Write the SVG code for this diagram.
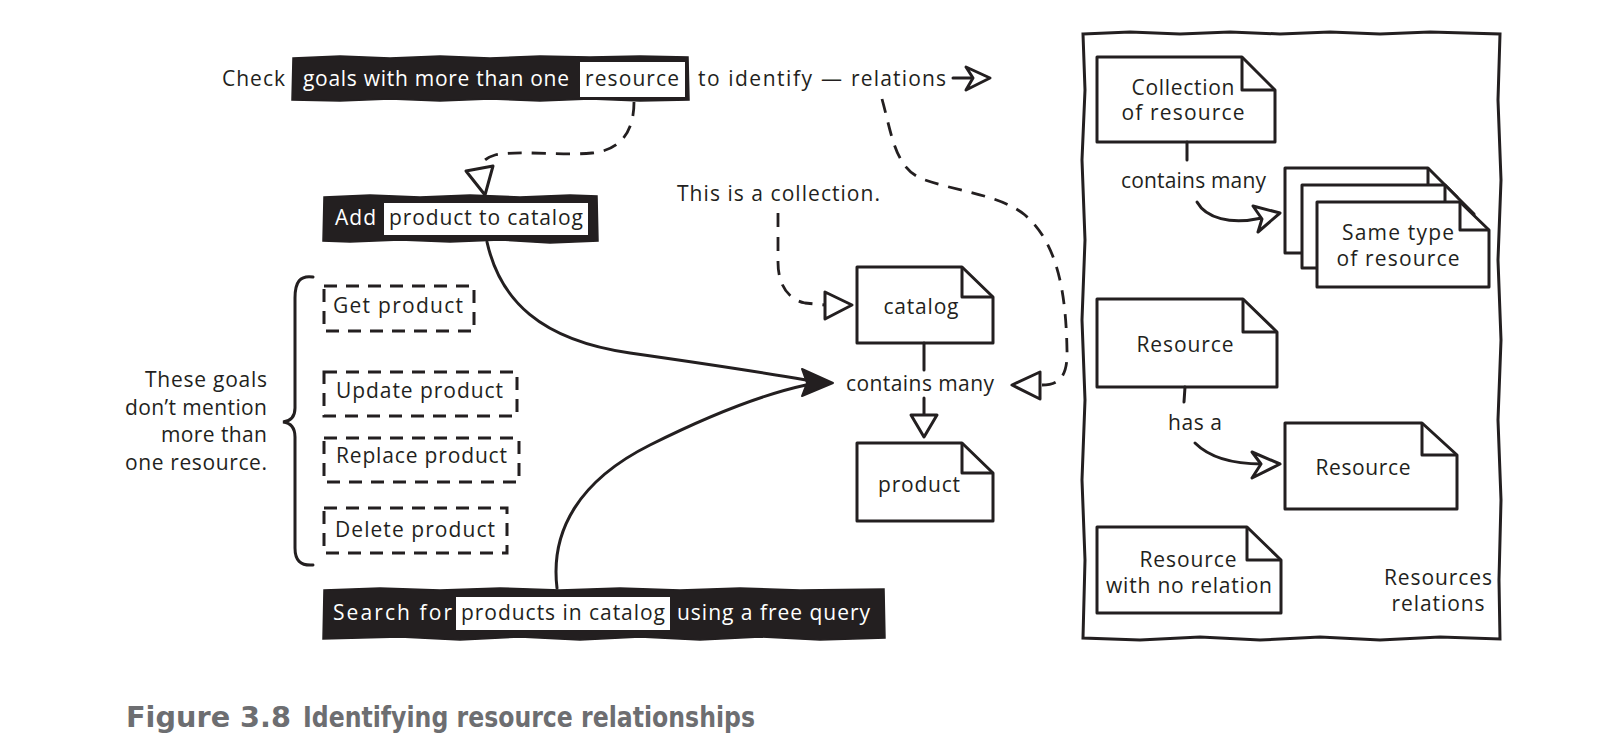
<svg xmlns="http://www.w3.org/2000/svg" width="1621" height="754" viewBox="0 0 1621 754">
<style>
text{font-family:"Open Sans","Noto Sans","DejaVu Sans",sans-serif;font-size:21px;fill:#231f20}
.w{fill:#fff}
.m{text-anchor:middle}
.r{text-anchor:end}
.blk{fill:#231f20;stroke:#231f20;stroke-width:1.5}
.wb{fill:#fff}
.doc{fill:#fff;stroke:#231f20;stroke-width:3;stroke-linejoin:round}
.fold{fill:none;stroke:#231f20;stroke-width:3;stroke-linejoin:round}
.dbox{fill:none;stroke:#231f20;stroke-width:3;stroke-dasharray:13 9}
.ln{fill:none;stroke:#231f20;stroke-width:3;stroke-linecap:round}
.dl{fill:none;stroke:#231f20;stroke-width:2.8;stroke-dasharray:14 10}
.ho{fill:#fff;stroke:#231f20;stroke-width:3;stroke-linejoin:round}
.fi{fill:#231f20;stroke:#231f20;stroke-width:2;stroke-linejoin:round}
.cap{font-family:"DejaVu Sans","Liberation Sans",sans-serif;font-weight:bold;font-size:28px;fill:#6d6e71}
</style>

<g id="goal-check">
<text x="222" y="86" textLength="63">Check</text>
<path class="blk" d="M293 58 L340 56 L390 58 L440 56 L490 58 L540 56 L590 57 L640 56 L688 57 L689 100 L640 101 L590 99 L540 101 L490 99 L440 101 L390 99 L340 101 L292 100 Z"/>
<rect class="wb" x="580" y="62" width="105" height="35"/>
<text class="w" x="303" y="86" textLength="266">goals with more than one</text>
<text x="585" y="86" textLength="94">resource</text>
<text x="698" y="86" textLength="114">to identify</text>
<text x="821" y="86" textLength="22">—</text>
<text x="851" y="86" textLength="95">relations</text>
</g>

<g id="goal-add">
<path class="blk" d="M324 197 L370 195 L420 197 L470 195 L520 197 L570 195 L597 196 L598 241 L550 243 L500 240 L450 242 L400 240 L350 242 L323 241 Z"/>
<rect class="wb" x="384" y="203" width="204" height="32"/>
<text class="w" x="335" y="225" textLength="41">Add</text>
<text x="389" y="225" textLength="194">product to catalog</text>
</g>

<g id="goal-search">
<path class="blk" d="M324 590 L380 588 L440 590 L500 588 L560 590 L620 588 L680 590 L740 588 L800 590 L884 589 L885 638 L820 640 L760 637 L700 640 L640 637 L580 640 L520 637 L460 640 L400 637 L323 639 Z"/>
<rect class="wb" x="456" y="597" width="214" height="33"/>
<text class="w" x="333" y="620" textLength="119">Search for</text>
<text x="461" y="620" textLength="204">products in catalog</text>
<text class="w" x="677" y="620" textLength="193">using a free query</text>
</g>

<g id="goal-get"><rect class="dbox" x="324" y="286" width="150" height="45"/><text x="333" y="313" textLength="130">Get product</text></g>
<g id="goal-update"><rect class="dbox" x="324" y="372" width="193" height="44"/><text x="336" y="398" textLength="167">Update product</text></g>
<g id="goal-replace"><rect class="dbox" x="324" y="438" width="195" height="44"/><text x="336" y="463" textLength="171">Replace product</text></g>
<g id="goal-delete"><rect class="dbox" x="324" y="508" width="183" height="45"/><text x="335" y="537" textLength="160">Delete product</text></g>

<g id="note-goals">
<path class="ln" d="M313 277 C300 275 295 282 295 298 L295 408 C295 417 291 421 283 422 C291 423 295 428 295 437 L295 548 C295 560 300 566 313 565"/>
<text class="r" x="267" y="387" textLength="122">These goals</text>
<text class="r" x="267" y="415" textLength="142">don’t mention</text>
<text class="r" x="267" y="442" textLength="106">more than</text>
<text class="r" x="267" y="470" textLength="142">one resource.</text>
</g>

<g id="note-collection"><text x="677" y="201" textLength="203">This is a collection.</text></g>

<g id="catalog">
<path class="doc" d="M857 267 L962 267 L993 297 L993 343 L857 343 Z"/>
<path class="fold" d="M962 267 L962 297 L993 297"/>
<text class="m" x="921" y="314" textLength="75">catalog</text>
</g>

<g id="product">
<path class="doc" d="M857 443 L962 443 L993 473 L993 521 L857 521 Z"/>
<path class="fold" d="M962 443 L962 473 L993 473"/>
<text class="m" x="919" y="492" textLength="82">product</text>
</g>

<g id="contains-many"><text x="846" y="391" textLength="148">contains many</text></g>

<g id="connectors">
<path class="dl" d="M634 102 C634 130 622 150 592 153 C560 156 520 150 495 155 C484 158 481 164 480 169"/>
<path class="ho" d="M466 171 L493 166 L485 195 Z"/>
<path class="dl" d="M882 99 C892 135 895 170 925 180 C960 192 1000 195 1025 215 C1060 245 1066 300 1067 350 C1068 378 1058 385 1042 385"/>
<path class="ho" d="M1040 372 L1040 399 L1012 385 Z"/>
<path class="dl" d="M778 213 L778 262 C778 287 790 300 805 303 L825 305"/>
<path class="ho" d="M825 292 L825 319 L852 305 Z"/>
<line class="ln" x1="953" y1="78" x2="972" y2="78"/>
<path class="ho" d="M990 78 L966 67 L973 78 L966 90 Z"/>
<path class="ln" d="M487 242 C500 300 540 340 630 353 C700 363 760 372 806 380"/>
<path class="ln" d="M557 588 C550 530 580 480 650 445 C710 415 760 395 806 385"/>
<path class="fi" d="M833 383 L802 369 L807 383 L802 396 Z"/>
<line class="ln" x1="924" y1="343" x2="924" y2="370"/>
<line class="ln" x1="924" y1="398" x2="924" y2="415"/>
<path class="ho" d="M911 415 L937 415 L924 437 Z"/>
</g>

<g id="resources-relations">
<path class="ln" d="M1083 34 L1130 32 L1180 34 L1230 32 L1280 34 L1330 32 L1380 34 L1430 32 L1500 34 L1498 100 L1501 180 L1498 260 L1501 340 L1498 420 L1501 500 L1499 580 L1500 639 L1440 637 L1380 640 L1320 637 L1260 640 L1200 637 L1140 640 L1083 638 L1085 560 L1082 480 L1085 400 L1082 320 L1085 240 L1082 160 L1085 90 Z"/>
<text class="m" x="1438" y="585" textLength="108">Resources</text>
<text class="m" x="1438" y="611" textLength="93">relations</text>
</g>

<g id="collection-of-resource">
<path class="doc" d="M1097 57 L1242 57 L1275 90 L1275 142 L1097 142 Z"/>
<path class="fold" d="M1242 57 L1242 90 L1275 90"/>
<text class="m" x="1183" y="95" textLength="103">Collection</text>
<text class="m" x="1183" y="120" textLength="123">of resource</text>
</g>

<g id="same-type-of-resource">
<path class="doc" d="M1285 168 L1428 168 L1457 197 L1457 253 L1285 253 Z"/>
<path class="fold" d="M1428 168 L1428 197 L1457 197"/>
<path class="doc" d="M1302 185 L1445 185 L1474 214 L1474 268 L1302 268 Z"/>
<path class="fold" d="M1445 185 L1445 214 L1474 214"/>
<path class="doc" d="M1317 202 L1460 202 L1489 230 L1489 287 L1317 287 Z"/>
<path class="fold" d="M1460 202 L1460 230 L1489 230"/>
<text class="m" x="1398" y="240" textLength="112">Same type</text>
<text class="m" x="1398" y="266" textLength="123">of resource</text>
</g>

<g id="resource-a">
<path class="doc" d="M1097 299 L1243 299 L1277 332 L1277 387 L1097 387 Z"/>
<path class="fold" d="M1243 299 L1243 332 L1277 332"/>
<text class="m" x="1185" y="352" textLength="97">Resource</text>
</g>

<g id="resource-b">
<path class="doc" d="M1285 423 L1422 423 L1457 455 L1457 509 L1285 509 Z"/>
<path class="fold" d="M1422 423 L1422 455 L1457 455"/>
<text class="m" x="1363" y="475" textLength="95">Resource</text>
</g>

<g id="resource-no-relation">
<path class="doc" d="M1097 527 L1247 527 L1281 560 L1281 613 L1097 613 Z"/>
<path class="fold" d="M1247 527 L1247 560 L1281 560"/>
<text class="m" x="1188" y="567" textLength="97">Resource</text>
<text class="m" x="1189" y="593" textLength="166">with no relation</text>
</g>

<g id="legend-connectors">
<line class="ln" x1="1187" y1="142" x2="1187" y2="160"/>
<text x="1121" y="188" textLength="145">contains many</text>
<path class="ln" d="M1197 202 C1206 218 1230 225 1262 218"/>
<path class="ho" d="M1280 213 L1253 206 L1262 219 L1258 232 Z"/>
<line class="ln" x1="1185" y1="387" x2="1184" y2="402"/>
<text x="1168" y="430" textLength="54">has a</text>
<path class="ln" d="M1195 443 C1210 458 1235 464 1262 464"/>
<path class="ho" d="M1280 464 L1252 452 L1261 464 L1252 478 Z"/>
</g>

<g id="caption">
<text class="cap" x="126" y="727" textLength="165" lengthAdjust="spacingAndGlyphs">Figure 3.8</text>
<text class="cap" x="303" y="727" textLength="452" lengthAdjust="spacingAndGlyphs">Identifying resource relationships</text>
</g>
</svg>
